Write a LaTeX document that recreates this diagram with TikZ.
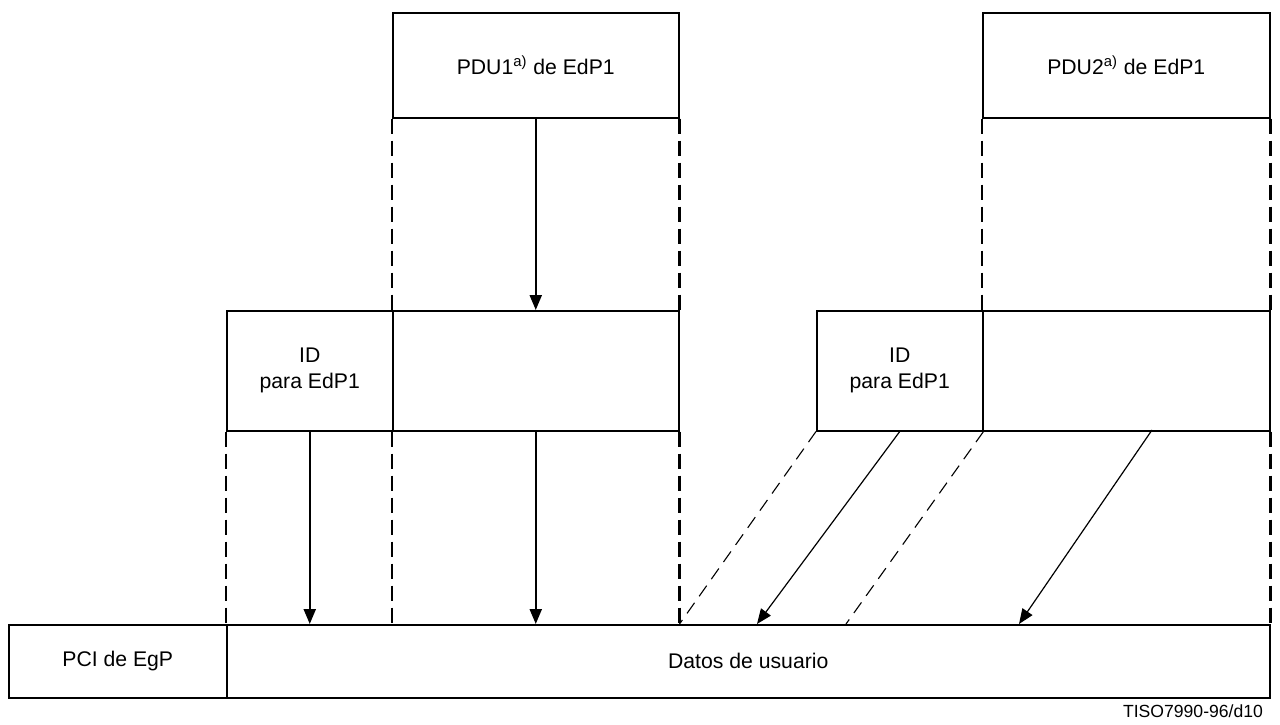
\documentclass[tikz,border=0pt]{standalone}
\usepackage{fontspec}
\setmainfont{Liberation Sans}
\usepackage{tikz}
\usetikzlibrary{
  positioning
  , calc
  , arrows.meta
}

\tikzset{
  cell/.style={draw, line width=0.75pt, rectangle, inner sep=0pt,
    anchor=north west, align=center,
    font=\fontsize{10.6}{13}\selectfont},
  guide/.style={line width=1.2pt, dash pattern=on 7.5pt off 3.5pt},
  slant/.style={line width=0.55pt, dash pattern=on 6.5pt off 4pt},
  flow/.style={line width=1.1pt, -{Triangle[length=7.5pt,width=6pt]}},
  sflow/.style={line width=0.6pt, -{Triangle[length=7.5pt,width=6pt]}}
}

\begin{document}
\begin{tikzpicture}[x=0.5pt,y=-0.5pt]
      \useasboundingbox (0,0) rectangle (1280,724);

      % upper PDUs
      \node [cell, minimum width=143pt, minimum height=52.5pt]
        (pdu1) at (392,12) {PDU1\textsuperscript{a)} de EdP1};
      \node [cell, minimum width=143.5pt, minimum height=52.5pt]
        (pdu2) at (982,12) {PDU2\textsuperscript{a)} de EdP1};

      % middle row
      \node [cell, minimum width=83pt, minimum height=60pt]
        (id1) at (226,310) {ID\\para EdP1};
      \node [cell, minimum width=143pt, minimum height=60pt]
        (ud1) at (392,310) {};
      \node [cell, minimum width=83pt, minimum height=60pt]
        (id2) at (816,310) {ID\\para EdP1};
      \node [cell, minimum width=143.5pt, minimum height=60pt]
        (ud2) at (982,310) {};

      % lower row
      \node [cell, minimum width=109pt, minimum height=36.5pt]
        (pci) at (8,624) {PCI de EgP};
      \node [cell, minimum width=521.5pt, minimum height=36.5pt]
        (datos) at (226,624) {Datos de usuario};

      \node [anchor=base east, font=\fontsize{8.8}{10}\selectfont]
        (ref) at (1270,717) {TISO7990-96/d10};

      \coordinate (s1) at (846,624);
      \coordinate (a1) at (757,624);
      \coordinate (b2) at (1152,430);
      \coordinate (a2) at (1019,624);

      % dashed guides
      \draw [guide] (pdu1.south west) -- (ud1.north west);
      \draw [guide] (pdu1.south east) -- (ud1.north east);
      \draw [guide] (pdu2.south west) -- (ud2.north west);
      \draw [guide] (pdu2.south east) -- (ud2.north east);
      \draw [guide] (id1.south west) -- (id1.south west |- datos.north);
      \draw [guide] (ud1.south west) -- (ud1.south west |- datos.north);
      \draw [guide] (ud1.south east) -- (ud1.south east |- datos.north);
      \draw [guide] (ud2.south east) -- (ud2.south east |- datos.north);
      \draw [slant] (id2.south west) -- (ud1.south east |- datos.north);
      \draw [slant] (id2.south east) -- (s1);

      % arrows
      \draw [flow] (pdu1.south) -- (ud1.north);
      \draw [flow] (id1.south) -- (id1.south |- datos.north);
      \draw [flow] (ud1.south) -- (ud1.south |- datos.north);
      \draw [sflow] (id2.south) -- (a1);
      \draw [sflow] (b2) -- (a2);

    \end{tikzpicture}
\end{document}
